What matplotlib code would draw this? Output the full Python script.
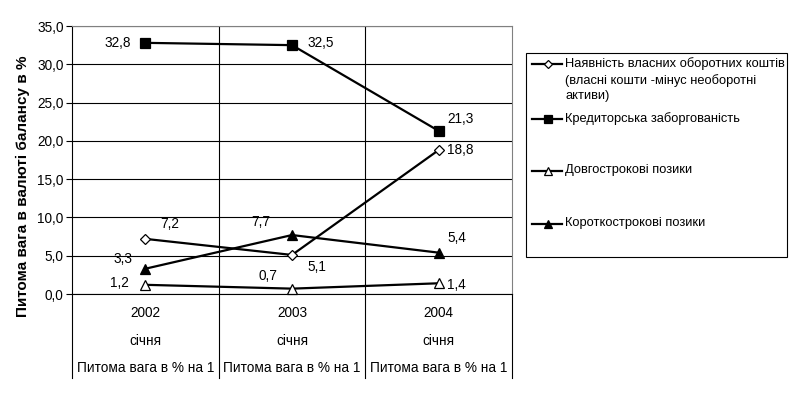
import matplotlib
matplotlib.use("Agg")
import matplotlib.pyplot as plt
from matplotlib.lines import Line2D
from matplotlib.patches import Rectangle
from matplotlib.ticker import FuncFormatter

plt.rcParams['font.family'] = ['Liberation Sans', 'DejaVu Sans']

years = ['2002', '2003', '2004']
row2 = ['січня', 'січня', 'січня']
row3 = ['Питома вага в % на 1', 'Питома вага в % на 1', 'Питома вага в % на 1']

series_names = ['Наявність власних оборотних коштів\n(власні кошти -мінус необоротні\nактиви)',
                'Кредиторська заборгованість',
                'Довгострокові позики',
                'Короткострокові позики']
own_funds = [7.2, 5.1, 18.8]
payables = [32.8, 32.5, 21.3]
long_loans = [1.2, 0.7, 1.4]
short_loans = [3.3, 7.7, 5.4]

# marker styles: (marker, facecolor, size)
styles = [('D', 'white', 5.5), ('s', 'black', 7), ('^', 'white', 7.5), ('^', 'black', 7.5)]
# label offsets in pixels (dx, dy, ha) per point
offsets = [
    [(15, 15, 'left'), (15, -12, 'left'), (8, 0, 'left')],
    [(-14, 0, 'right'), (16, 2, 'left'), (9, 12, 'left')],
    [(-17, 2, 'right'), (-15, 13, 'right'), (8, -2, 'left')],
    [(-13, 10, 'right'), (-22, 13, 'right'), (9, 15, 'left')],
]

fs = 9.8
fig = plt.figure(figsize=(7.96, 3.94), dpi=100)
W, H = 796, 394
ax = fig.add_axes([72 / W, (H - 294) / H, (512 - 72) / W, (294 - 26) / H])

x = range(len(years))
data = [own_funds, payables, long_loans, short_loans]
for vals, (m, fc, ms), offs in zip(data, styles, offsets):
    ax.plot(x, vals, color='black', lw=1.6, marker=m, markersize=ms,
            markerfacecolor=fc, markeredgecolor='black', markeredgewidth=0.9,
            clip_on=False, zorder=3)
    for xi, v, (dx, dy, ha) in zip(x, vals, offs):
        ax.annotate(f'{v:.1f}'.replace('.', ','), (xi, v), xytext=(dx, dy),
                    textcoords='offset pixels', ha=ha, va='center', fontsize=fs)

ax.set_xlim(-0.5, 2.5)
ax.set_ylim(0, 35)
ax.set_yticks(range(0, 36, 5))
ax.yaxis.set_major_formatter(FuncFormatter(lambda v, p: f'{v:.1f}'.replace('.', ',')))
ax.tick_params(axis='y', length=4, width=0.8, labelsize=fs, pad=2)
ax.set_xticks([])
ax.grid(axis='y', color='black', lw=0.8)
ax.set_axisbelow(True)
for xv in [0.5, 1.5]:
    ax.axvline(xv, color='black', lw=0.8, zorder=0)

for s in ['top', 'right']:
    ax.spines[s].set_color('#808080')
    ax.spines[s].set_linewidth(0.8)
ax.spines['left'].set_linewidth(0.8)
ax.spines['bottom'].set_linewidth(0.8)

# category label area below the axis
trans = ax.get_xaxis_transform()
low = (294 - 378) / (294 - 26)
for xv in [-0.5, 0.5, 1.5, 2.5]:
    ax.plot([xv, xv], [0, low], color='black', lw=0.8, transform=trans, clip_on=False)
for xi, (a, b, c) in enumerate(zip(years, row2, row3)):
    ax.text(xi, (294 - 313) / 268, a, transform=trans, ha='center', va='center', fontsize=fs)
    ax.text(xi, (294 - 341) / 268, b, transform=trans, ha='center', va='center', fontsize=fs)
    ax.text(xi, (294 - 368) / 268, c, transform=trans, ha='center', va='center', fontsize=fs)

fig.text(23 / W, (H - 186) / H, 'Питома вага в валюті балансу в %', rotation=90,
         ha='center', va='center', fontsize=11, fontweight='bold')

# legend drawn by hand
fig.patches.append(Rectangle((526 / W, (H - 257) / H), (787 - 526) / W, (257 - 53) / H,
                             transform=fig.transFigure, fill=False, edgecolor='black', lw=0.8))
entry_y = [64, 119, 171, 224]
for name, (m, fc, ms), yy in zip(series_names, styles, entry_y):
    fy = (H - yy) / H
    fig.lines.append(Line2D([532 / W, 562 / W], [fy, fy], transform=fig.transFigure,
                            color='black', lw=1.6))
    fig.lines.append(Line2D([547.5 / W], [fy], transform=fig.transFigure, marker=m,
                            markersize=ms * 0.8, markerfacecolor=fc, markeredgecolor='black',
                            markeredgewidth=0.9, color='black'))
    fig.text(565 / W, fy + 7 / H, name, ha='left', va='top', fontsize=9.3, linespacing=1.4)

fig.savefig('out.png', dpi=100)
